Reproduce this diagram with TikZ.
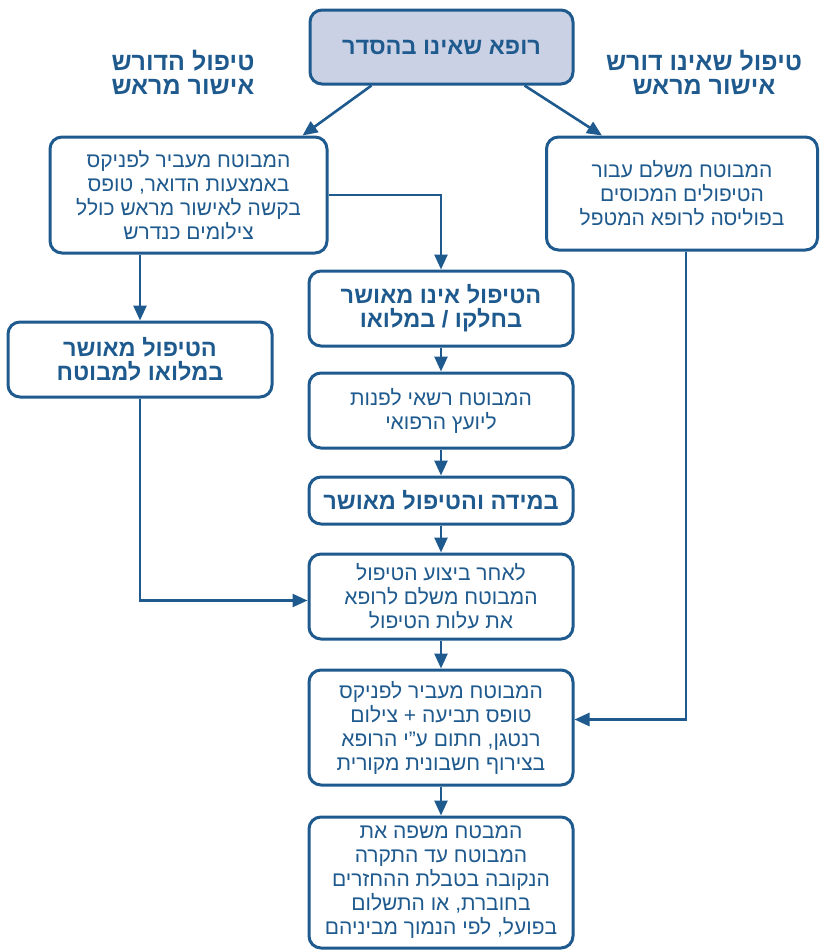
\documentclass[tikz,border=0pt]{standalone}
\usepackage{fontspec}
\usepackage{xcolor}
\usepackage{tikz}
\usetikzlibrary{arrows.meta}
\TeXXeTstate=1
\newfontfamily\hebfont[Script=Hebrew]{Liberation Sans}
\definecolor{flowblue}{HTML}{1F5A8E}
\definecolor{flowfill}{HTML}{CBD1E4}
\newcommand{\heb}[1]{\beginR #1\endR}

\begin{document}
\begin{tikzpicture}[inner sep=0pt,
  box/.style={draw=flowblue, line width=3pt, rounded corners=12pt, fill=white, align=center, text=flowblue, font=\hebfont\fontsize{21}{24}\selectfont, shape=rectangle},
  boldbox/.style={box, font=\hebfont\bfseries\fontsize{23.5}{24}\selectfont},
  head/.style={align=center, text=flowblue, font=\hebfont\bfseries\fontsize{25}{24}\selectfont},
  flow/.style={-{Triangle[length=15pt,width=13pt]}, line width=2.6pt, draw=flowblue}]
\useasboundingbox (0pt,0pt) rectangle (820pt,-951pt);

\node (top) [boldbox, fill=flowfill, minimum width=263pt, minimum height=74pt, at={(441.5pt,-47pt)}] {\heb{רופא שאינו בהסדר}};
\node (headL) [head, at={(183pt,-72pt)}] {\heb{טיפול הדורש}\\ \heb{אישור מראש}};
\node (headR) [head, at={(704pt,-72pt)}] {\heb{טיפול שאינו דורש}\\ \heb{אישור מראש}};

\node (boxL1) [box, minimum width=277pt, minimum height=116pt, at={(188.5pt,-195pt)}] {\heb{המבוטח מעביר לפניקס}\\ \heb{באמצעות הדואר, טופס}\\ \heb{בקשה לאישור מראש כולל}\\ \heb{צילומים כנדרש}};
\node (boxR1) [box, minimum width=271pt, minimum height=113pt, at={(682pt,-193.5pt)}] {\heb{המבוטח משלם עבור}\\ \heb{הטיפולים המכוסים}\\ \heb{בפוליסה לרופא המטפל}};

\node (boxL2) [boldbox, minimum width=264pt, minimum height=75pt, at={(140pt,-359.5pt)}] {\heb{הטיפול מאושר}\\ \heb{במלואו למבוטח}};
\node (boxC1) [boldbox, minimum width=264pt, minimum height=75pt, at={(441pt,-308.5pt)}] {\heb{הטיפול אינו מאושר}\\ \heb{בחלקו / במלואו}};
\node (boxC2) [box, minimum width=264pt, minimum height=75pt, at={(441pt,-410.5pt)}] {\heb{המבוטח רשאי לפנות}\\ \heb{ליועץ הרפואי}};
\node (boxC3) [boldbox, minimum width=264pt, minimum height=47pt, at={(441pt,-500.5pt)}] {\heb{במידה והטיפול מאושר}};
\node (boxC4) [box, minimum width=264pt, minimum height=85pt, at={(441pt,-596.5pt)}] {\heb{לאחר ביצוע הטיפול}\\ \heb{המבוטח משלם לרופא}\\ \heb{את עלות הטיפול}};
\node (boxC5) [box, minimum width=264pt, minimum height=115pt, at={(441pt,-727.5pt)}] {\heb{המבוטח מעביר לפניקס}\\ \heb{טופס תביעה + צילום}\\ \heb{רנטגן, חתום ע”י הרופא}\\ \heb{בצירוף חשבונית מקורית}};
\node (boxC6) [box, minimum width=264pt, minimum height=131pt, at={(441pt,-882.5pt)}] {\heb{המבטח משפה את}\\ \heb{המבוטח עד התקרה}\\ \heb{הנקובה בטבלת ההחזרים}\\ \heb{בחוברת, או התשלום}\\ \heb{בפועל, לפי הנמוך מביניהם}};

% connectors
\path [flow] ([xshift=-70pt]top.south) -- ([xshift=114pt]boxL1.north);
\path [flow] ([xshift=83pt]top.south) -- ([xshift=-80pt]boxR1.north);
\path [flow] (boxL1.east) -| (boxC1.north);
\path [flow] (boxL2.north |- boxL1.south) -- (boxL2.north);
\path [flow] (boxC1) -- (boxC2);
\path [flow] (boxC2) -- (boxC3);
\path [flow] (boxL2.south) |- ([yshift=-4pt]boxC4.west);
\path [flow] (boxC3) -- (boxC4);
\path [flow] (boxC4) -- (boxC5);
\path [flow] ([xshift=4pt]boxR1.south) |- ([yshift=8pt]boxC5.east);
\path [flow] (boxC5) -- (boxC6);
\end{tikzpicture}
\end{document}
